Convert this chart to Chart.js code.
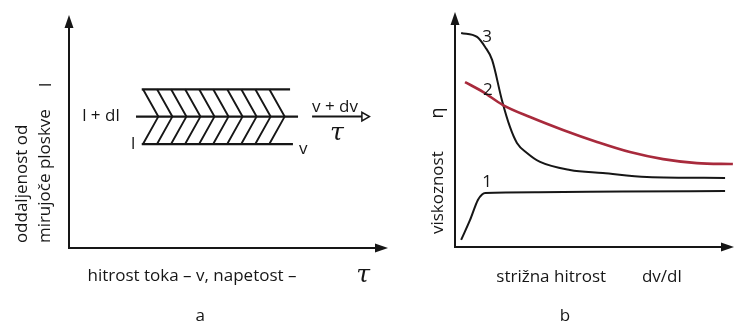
<!DOCTYPE html>
<html>
<head>
<meta charset="utf-8">
<script src="https://cdn.jsdelivr.net/npm/chart.js@4"></script>
<style>
  html, body { margin: 0; padding: 0; background: #fff; }
  #wrap { position: relative; width: 734px; height: 327px; overflow: hidden; }
  #chart-a { position: absolute; left: 0; top: 0; }
  #chart-b { position: absolute; left: 400px; top: 0; }
</style>
</head>
<body>
<div id="wrap">
  <canvas id="chart-a" width="400" height="327"></canvas>
  <canvas id="chart-b" width="334" height="327"></canvas>
</div>
<script>
// panel a: layered flow (distance vs velocity), 0..100 on both axes
const layerLevels = [44.6, 56.4, 68.1];          // l, l + dl, upper layer
const layerStartX = [22.8, 21.0, 22.8];
const layerEndX = [70.2, 71.8, 69.3];
const hatchLeftX = [23.2, 27.6, 32.0, 36.4, 40.8, 45.2, 49.6, 54.0, 58.4, 62.8];
const hatchTipX = [28.0, 32.4, 36.8, 41.2, 45.6, 50.0, 54.4, 58.8, 63.2, 67.6];
const shearArrowX = [76.2, 92.6];

// panel b: viscosity vs shear rate, 0..100 on both axes
const curve1Rate = [2.2, 5.4, 8.2, 9.7, 10.8, 30, 60, 96.8];
const curve1Visc = [3.0, 11.5, 20.0, 22.3, 23.0, 23.3, 23.6, 23.8];
const curve2Rate = [3.6, 10.0, 17.2, 26.9, 38.7, 50.9, 62.7, 74.6, 86.7, 99.6];
const curve2Visc = [70.2, 66.0, 60.4, 55.3, 49.8, 44.7, 40.4, 37.4, 35.7, 35.3];
const curve3Rate = [2.2, 7.9, 10.8, 13.3, 16.8, 19.7, 22.2, 25.8, 30.5, 41.2, 53.0, 68.8, 96.8];
const curve3Visc = [91.1, 89.4, 85.1, 79.6, 62.6, 51.1, 44.3, 40.0, 36.2, 32.8, 31.5, 29.8, 29.4];
const curveNames = ['1', '2', '3'];

const FONT = '"Open Sans", "DejaVu Sans", sans-serif';
const TXT = '17px ' + FONT;
const INK = '#161616';

const pts = (xs, ys) => xs.map((x, i) => ({ x: x, y: ys[i] }));

// axes with filled arrow heads, drawn on the scale pixels
const arrowAxes = {
  id: 'arrowAxes',
  beforeDatasetsDraw(chart) {
    const { ctx, scales: { x, y } } = chart;
    const x0 = x.getPixelForValue(0), y0 = y.getPixelForValue(0);
    const xEnd = x.getPixelForValue(x.max), yEnd = y.getPixelForValue(y.max);
    ctx.save();
    ctx.strokeStyle = INK;
    ctx.fillStyle = INK;
    ctx.lineWidth = 2;
    ctx.beginPath();
    ctx.moveTo(x0, yEnd + 8);
    ctx.lineTo(x0, y0);
    ctx.lineTo(xEnd - 8, y0);
    ctx.stroke();
    ctx.beginPath();
    ctx.moveTo(x0, yEnd);
    ctx.lineTo(x0 - 4.5, yEnd + 13);
    ctx.lineTo(x0 + 4.5, yEnd + 13);
    ctx.closePath();
    ctx.fill();
    ctx.beginPath();
    ctx.moveTo(xEnd, y0);
    ctx.lineTo(xEnd - 13, y0 - 4.5);
    ctx.lineTo(xEnd - 13, y0 + 4.5);
    ctx.closePath();
    ctx.fill();
    ctx.restore();
  }
};

// free text placed in data units
const textLabels = {
  id: 'textLabels',
  afterDraw(chart, args, opts) {
    const { ctx, scales: { x, y } } = chart;
    (opts.items || []).forEach(t => {
      ctx.save();
      ctx.translate(x.getPixelForValue(t.x), y.getPixelForValue(t.y));
      if (t.rotate) ctx.rotate(t.rotate);
      ctx.font = t.font || TXT;
      ctx.fillStyle = INK;
      ctx.textAlign = t.align || 'center';
      ctx.textBaseline = 'middle';
      ctx.fillText(t.text, 0, 0);
      ctx.restore();
    });
  }
};

const baseOptions = (padding, items) => ({
  responsive: false,
  animation: false,
  layout: { padding: padding },
  plugins: { legend: { display: false }, tooltip: { enabled: false }, textLabels: { items: items } },
  scales: {
    x: { type: 'linear', min: 0, max: 100, display: false },
    y: { type: 'linear', min: 0, max: 100, display: false }
  }
});

const lineSet = (data, color, width, extra) => Object.assign({
  data: data,
  showLine: true,
  borderColor: color,
  borderWidth: width,
  pointRadius: 0,
  clip: false,
  spanGaps: false
}, extra || {});

// chevron hatching between the layers
const hatch = [];
hatchLeftX.forEach((x, i) => {
  hatch.push({ x: x, y: layerLevels[2] }, { x: hatchTipX[i], y: layerLevels[1] }, { x: x, y: layerLevels[0] }, { x: x, y: null });
});

const tau = 'italic 25px "DejaVu Serif", serif';
const UP = -Math.PI / 2;

new Chart(document.getElementById('chart-a'), {
  type: 'scatter',
  plugins: [arrowAxes, textLabels],
  data: {
    datasets: [
      ...layerLevels.map((lv, i) => lineSet([{ x: layerStartX[i], y: lv }, { x: layerEndX[i], y: lv }], INK, 2.2)),
      lineSet(hatch, INK, 1.9),
      lineSet(pts(shearArrowX, [layerLevels[1], layerLevels[1]]), INK, 2, {
        pointRadius: [0, 5],
        pointStyle: 'triangle',
        rotation: 90,
        pointBackgroundColor: '#fff',
        pointBorderColor: INK,
        pointBorderWidth: 1.5
      })
    ]
  },
  options: baseOptions({ left: 69, right: 12, top: 15, bottom: 79 }, [
    { text: 'oddaljenost od', x: -14.7, y: 2.1, rotate: UP, align: 'left' },
    { text: 'mirujoče ploskve', x: -7.5, y: 2.1, rotate: UP, align: 'left' },
    { text: 'l', x: -7.2, y: 70.0, rotate: UP },
    { text: 'l + dl', x: 10.0, y: 56.7 },
    { text: 'l', x: 20.1, y: 44.6 },
    { text: 'v', x: 73.4, y: 42.6 },
    { text: 'v + dv', x: 83.4, y: 60.6 },
    { text: 'τ', x: 84.0, y: 49.0, font: tau },
    { text: 'hitrost toka – v, napetost –', x: 5.8, y: -12.0, align: 'left' },
    { text: 'τ', x: 92.2, y: -11.6, font: tau },
    { text: 'a', x: 41.1, y: -29.2 }
  ])
});

new Chart(document.getElementById('chart-b'), {
  type: 'scatter',
  plugins: [arrowAxes, textLabels],
  data: {
    datasets: [
      lineSet(pts(curve1Rate, curve1Visc), INK, 2, { cubicInterpolationMode: 'monotone' }),
      lineSet(pts(curve2Rate, curve2Visc), '#a82a3c', 2.6, { cubicInterpolationMode: 'monotone' }),
      lineSet(pts(curve3Rate, curve3Visc), INK, 2, { cubicInterpolationMode: 'monotone' })
    ]
  },
  options: baseOptions({ left: 55, right: 0, top: 12, bottom: 80 }, [
    { text: 'viskoznost', x: -6.1, y: 5.5, rotate: UP, align: 'left' },
    { text: 'η', x: -6.1, y: 57.0, rotate: UP, font: '18px ' + FONT },
    { text: curveNames[2], x: 11.5, y: 89.4 },
    { text: curveNames[1], x: 11.8, y: 66.8 },
    { text: curveNames[0], x: 11.5, y: 27.7 },
    { text: 'strižna hitrost', x: 14.8, y: -13.0, align: 'left' },
    { text: 'dv/dl', x: 67.0, y: -13.0, align: 'left' },
    { text: 'b', x: 39.4, y: -29.4 }
  ])
});
</script>
</body>
</html>
